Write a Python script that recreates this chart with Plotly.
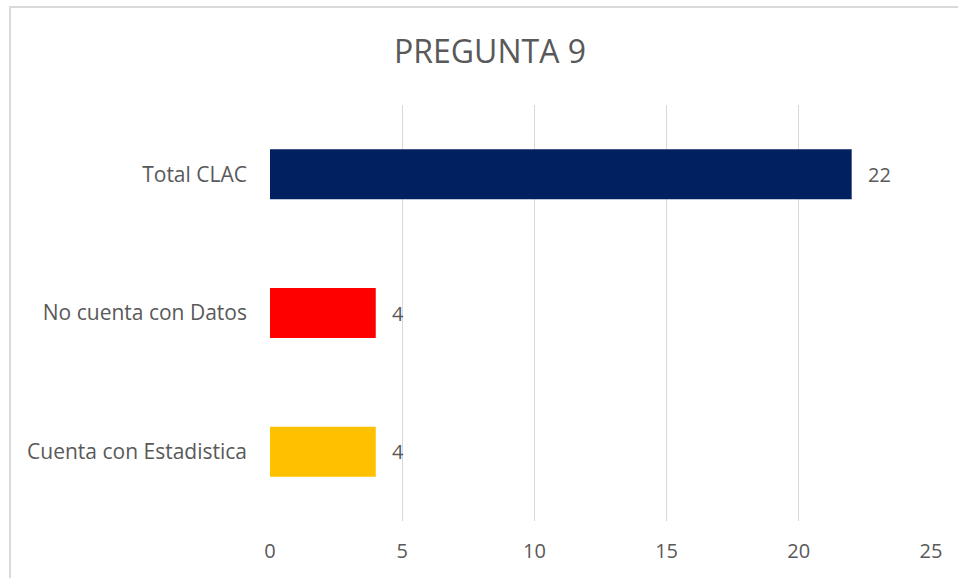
import plotly.graph_objects as go

categories = ["Cuenta con Estadistica", "No cuenta con Datos", "Total CLAC"]
values = [4, 4, 22]
colors = ["#FFC000", "#FF0000", "#002060"]
x_ticks = [0, 5, 10, 15, 20, 25]

W, H = 958, 578
L, R, T, B = 270, 958 - 931, 105, 578 - 521
pw, ph = W - L - R, H - T - B
GRAY = "#595959"
FONT = "Open Sans"

fig = go.Figure(go.Bar(
    x=values, y=categories, orientation="h",
    marker=dict(color=colors, line=dict(width=0)),
    width=0.36,
))

annotations = [
    dict(x=v, y=c, xref="x", yref="y", text=str(v), showarrow=False,
         xanchor="left", yanchor="middle", xshift=14,
         font=dict(size=20, color=GRAY, family=FONT))
    for v, c in zip(values, categories)
]

fig.update_layout(
    width=W, height=H,
    margin=dict(l=L, r=R, t=T, b=B),
    paper_bgcolor="white", plot_bgcolor="white",
    title=dict(text="PREGUNTA 9", x=490 / W, xanchor="center",
               y=1 - 52 / H, yanchor="middle",
               font=dict(size=32, color=GRAY, family=FONT)),
    font=dict(family=FONT, color=GRAY, size=20),
    showlegend=False,
    annotations=annotations,
    xaxis=dict(range=[0, 25], tickvals=x_ticks, showgrid=True, gridcolor="#D9D9D9",
               gridwidth=1, zeroline=False, showline=False, ticks="",
               ticklabelstandoff=16, tickfont=dict(size=20, color=GRAY, family=FONT)),
    yaxis=dict(range=[-0.5, 2.5], showgrid=False, zeroline=False, showline=False,
               ticks="", ticklabelstandoff=22, tickfont=dict(size=21, color=GRAY, family=FONT)),
    shapes=[dict(type="rect", xref="paper", yref="paper",
                 x0=(10 - L) / pw, x1=(975 - L) / pw,
                 y0=(H - B - 600) / ph, y1=(H - B - 7) / ph,
                 line=dict(color="#D9D9D9", width=2), fillcolor="rgba(0,0,0,0)", layer="below")],
)

fig.write_html("out.html", config={"displayModeBar": False},
               post_script="document.body.style.margin='0';")
